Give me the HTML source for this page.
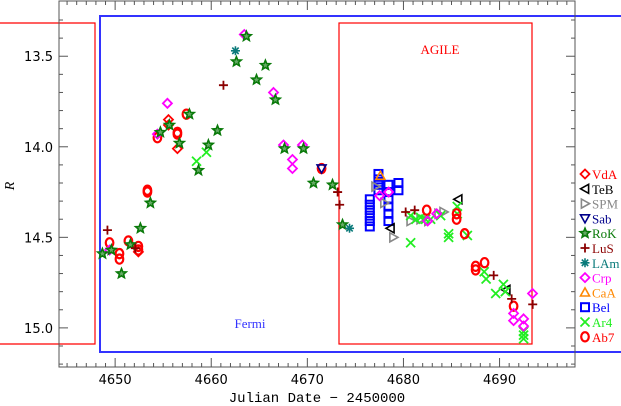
<!DOCTYPE html>
<html><head><meta charset="utf-8"><style>
html,body{margin:0;padding:0;background:#fff;}
svg{display:block;font-family:"DejaVu Sans","Liberation Sans",sans-serif;}
</style></head><body>
<svg id="chart" width="621" height="406" viewBox="0 0 621 406" xmlns="http://www.w3.org/2000/svg">
<rect x="0" y="0" width="621" height="406" fill="#fff"/>
<g id="boxes">
<polyline points="0,23 95,23 95,344 0,344" fill="none" stroke="#f00" stroke-width="1.2"/>
<polyline points="621,16 100,16 100,352 621,352" fill="none" stroke="#33f" stroke-width="2"/>
<rect x="339" y="23" width="193" height="321" fill="none" stroke="#f00" stroke-width="1.2"/>
<text x="250" y="328" fill="#33f" font-size="13" font-family="Liberation Serif, serif" text-anchor="middle">Fermi</text>
<text x="440" y="54" fill="#f00" font-size="13" font-family="Liberation Serif, serif" text-anchor="middle">AGILE</text>
</g>
<g id="axes"></g>
<g id="marks"></g>
<g id="legend"></g>
<text x="317" y="402" font-size="14" text-anchor="middle" font-family="Liberation Mono, monospace">Julian Date − 2450000</text>
<text x="14" y="186" font-size="14" font-style="italic" font-family="Liberation Serif, serif" text-anchor="middle" transform="rotate(-90 14 186)">R</text>
</svg>
<script>
const xTicks=[4650,4660,4670,4680,4690];
const yTicks=[13.5,14.0,14.5,15.0];
const legendNames=["VdA","TeB","SPM","Sab","RoK","LuS","LAm","Crp","CaA","Bel","Ar4","Ab7"];
const dVdA=[4652.42,4655.55,4655.55,4656.48];
const mVdA=[14.58,13.85,13.88,14.01];
const dTeB=[4678.65,4685.7,4690.7];
const mTeB=[14.45,14.29,14.79];
const dSPM=[4677.1,4678.02,4678.96,4680.75,4681.79,4682.6,4683.66,4684.18];
const mSPM=[14.22,14.31,14.50,14.41,14.40,14.41,14.37,14.36];
const dSab=[4671.48];
const mSab=[14.12];
const dRoK=[4648.68,4649.61,4650.66,4651.59,4652.63,4653.67,4654.71,4655.65,4656.69,4657.73,4658.67,4659.71,4660.65,4662.62,4663.66,4664.71,4665.64,4666.68,4667.62,4669.60,4670.64,4672.62,4673.66];
const mRoK=[14.59,14.57,14.70,14.54,14.45,14.31,13.92,13.88,13.98,13.82,14.13,13.99,13.91,13.53,13.39,13.63,13.55,13.74,14.01,14.01,14.20,14.21,14.43];
const dLuS=[4649.2,4652.1,4661.27,4673.15,4673.36,4680.23,4681.17,4689.39,4691.26,4693.45];
const mLuS=[14.46,14.56,13.66,14.25,14.32,14.36,14.35,14.71,14.84,14.87];
const dLAm=[4662.52,4674.39];
const mLAm=[13.47,14.45];
const dCrp=[4649.42,4654.40,4655.44,4663.44,4666.48,4667.52,4668.45,4668.45,4669.49,4677.52,4678.46,4682.52,4683.46,4691.46,4691.46,4692.50,4692.50,4693.43];
const mCrp=[14.57,13.93,13.76,13.38,13.70,13.99,14.07,14.12,13.99,14.27,14.25,14.41,14.37,14.92,14.96,14.95,14.99,14.81];
const dCaA=[4677.6];
const mCaA=[14.16];
const dBel=[4676.5,4676.5,4676.5,4676.5,4676.5,4676.5,4677.4,4677.4,4677.4,4677.4,4678.44,4678.44,4678.44,4678.44,4678.44,4678.44,4679.48,4679.48];
const mBel=[14.29,14.32,14.35,14.38,14.41,14.44,14.15,14.18,14.21,14.24,14.21,14.25,14.29,14.33,14.37,14.41,14.20,14.24];
const dAr4=[4658.47,4659.5,4680.75,4680.75,4681.3,4681.79,4682.3,4682.83,4683.87,4684.7,4684.7,4685.6,4685.6,4686.65,4688.4,4688.6,4689.6,4690.4,4690.6,4692.5,4692.5,4692.5];
const mAr4=[14.08,14.03,14.53,14.38,14.40,14.39,14.40,14.40,14.38,14.48,14.50,14.37,14.33,14.49,14.69,14.73,14.81,14.76,14.80,15.02,15.06,15.04];
const dAb7=[4649.42,4650.45,4650.45,4651.38,4652.42,4652.42,4653.36,4653.36,4654.40,4656.48,4656.48,4657.42,4671.48,4682.42,4685.53,4685.53,4686.37,4687.51,4687.51,4688.44,4691.46];
const mAb7=[14.53,14.59,14.62,14.52,14.55,14.57,14.24,14.25,13.95,13.92,13.93,13.82,14.12,14.35,14.37,14.40,14.48,14.66,14.68,14.64,14.88];

const X0=59,X1=575,Y0=1,Y1=367;
const dMin=4644.16,dMax=4697.85,mMin=13.195,mMax=15.216;
function sx(d){return X0+(d-dMin)/(dMax-dMin)*(X1-X0);}
function sy(m){return Y0+(m-mMin)/(mMax-mMin)*(Y1-Y0);}
const NS="http://www.w3.org/2000/svg";
function mk(tag,attrs,parent){const e=document.createElementNS(NS,tag);for(const k in attrs)e.setAttribute(k,attrs[k]);parent.appendChild(e);return e;}
const axes=document.getElementById('axes');
const frame=mk('rect',{x:X0,y:Y0,width:X1-X0,height:Y1-Y0,fill:'none',stroke:'#555','stroke-width':1},axes);


for(let d=4645;d<=4697;d++){
  const x=sx(d);const L=(d%10===0)?9:4;
  const t1=mk('line',{x1:x,y1:Y1,x2:x,y2:Y1-L,stroke:'#555'},axes);
  
  
  const t2=mk('line',{x1:x,y1:Y0,x2:x,y2:Y0+L,stroke:'#555'},axes);
  
  
}
xTicks.forEach(d=>{
  const t=mk('text',{x:sx(d),y:Y1+17,'font-size':13,'text-anchor':'middle',fill:'#000'},axes);
  t.textContent=d;
  
  
});
for(let i=133;i<=152;i++){
  const m=i/10;const y=sy(m);const L=(i%5===0)?9:4;
  const t1=mk('line',{x1:X0,y1:y,x2:X0+L,y2:y,stroke:'#555'},axes);
  
  
  const t2=mk('line',{x1:X1,y1:y,x2:X1-L,y2:y,stroke:'#555'},axes);
  
  
}
yTicks.forEach(m=>{
  const t=mk('text',{x:53,y:sy(m)+5,'font-size':13,'text-anchor':'end',fill:'#000'},axes);
  t.textContent=m.toFixed(1);
  
  
});
const styles={
 VdA:{c:'#f00',s:'diamond'},TeB:{c:'#000',s:'tril'},SPM:{c:'#888',s:'trir'},Sab:{c:'#00008b',s:'trid'},
 RoK:{c:'#0a7a0a',s:'star'},LuS:{c:'#8b0000',s:'plus'},LAm:{c:'#0a7a7a',s:'aster'},Crp:{c:'#f0f',s:'diamond'},
 CaA:{c:'#f80',s:'triu'},Bel:{c:'#00f',s:'square'},Ar4:{c:'#2e2',s:'x'},Ab7:{c:'#f00',s:'circle'}
};
function sym(g,s,c,x,y){
  const r=4.5;let e;
  if(s==='circle')e=mk('ellipse',{cx:x,cy:y,rx:3.8,ry:4.6,fill:'none',stroke:c,'stroke-width':2.2},g);
  else if(s==='square')e=mk('rect',{x:x-4,y:y-4,width:8,height:8,fill:'none',stroke:c,'stroke-width':2},g);
  else if(s==='diamond')e=mk('polygon',{points:`${x},${y-r} ${x+r},${y} ${x},${y+r} ${x-r},${y}`,fill:'none',stroke:c,'stroke-width':1.8},g);
  else if(s==='triu')e=mk('polygon',{points:`${x},${y-r} ${x+r},${y+r*0.8} ${x-r},${y+r*0.8}`,fill:'none',stroke:c,'stroke-width':1.6},g);
  else if(s==='trid')e=mk('polygon',{points:`${x},${y+r} ${x+r},${y-r*0.8} ${x-r},${y-r*0.8}`,fill:'none',stroke:c,'stroke-width':1.6},g);
  else if(s==='tril')e=mk('polygon',{points:`${x-r},${y} ${x+r*0.8},${y-r} ${x+r*0.8},${y+r}`,fill:'none',stroke:c,'stroke-width':1.6},g);
  else if(s==='trir')e=mk('polygon',{points:`${x+r},${y} ${x-r*0.8},${y-r} ${x-r*0.8},${y+r}`,fill:'none',stroke:c,'stroke-width':1.6},g);
  else if(s==='plus')e=mk('path',{d:`M${x-r},${y}H${x+r}M${x},${y-r}V${y+r}`,stroke:c,'stroke-width':1.8},g);
  else if(s==='x')e=mk('path',{d:`M${x-r},${y-r}L${x+r},${y+r}M${x-r},${y+r}L${x+r},${y-r}`,stroke:c,'stroke-width':1.8},g);
  else if(s==='aster')e=mk('path',{d:`M${x-r},${y}H${x+r}M${x},${y-r}V${y+r}M${x-3.2},${y-3.2}L${x+3.2},${y+3.2}M${x-3.2},${y+3.2}L${x+3.2},${y-3.2}`,stroke:c,'stroke-width':1.6},g);
  else if(s==='star'){let p=[];for(let i=0;i<10;i++){const a=-Math.PI/2+i*Math.PI/5;const rr=i%2?2.2:5;p.push((x+rr*Math.cos(a)).toFixed(1)+','+(y+rr*Math.sin(a)).toFixed(1));}
    e=mk('polygon',{points:p.join(' '),fill:'#6a6',stroke:c,'stroke-width':1.6},g);}
  return e;
}
const series={VdA:[dVdA,mVdA],TeB:[dTeB,mTeB],SPM:[dSPM,mSPM],Sab:[dSab,mSab],RoK:[dRoK,mRoK],LuS:[dLuS,mLuS],LAm:[dLAm,mLAm],Crp:[dCrp,mCrp],CaA:[dCaA,mCaA],Bel:[dBel,mBel],Ar4:[dAr4,mAr4],Ab7:[dAb7,mAb7]};
const marks=document.getElementById('marks');
const order=["Bel","CaA","SPM","TeB","Ar4","Ab7","VdA","Crp","RoK","LuS","LAm","Sab"];
order.forEach(n=>{
  const g=mk('g',{},marks);
  
  
  const [ds,ms]=series[n];
  ds.forEach((d,i)=>{
    const e=sym(g,styles[n].s,styles[n].c,sx(d),sy(ms[i]));
    
    
  });
});
const leg=document.getElementById('legend');
legendNames.forEach((n,i)=>{
  const y=174+i*14.8;
  const g=mk('g',{},leg);
  
  
  sym(g,styles[n].s,styles[n].c,585,y);
  const t=mk('text',{x:592,y:y+5,'font-size':13,fill:styles[n].c,'font-family':'Liberation Serif, serif'},g);
  t.textContent=n;
});
</script>
</body></html>
